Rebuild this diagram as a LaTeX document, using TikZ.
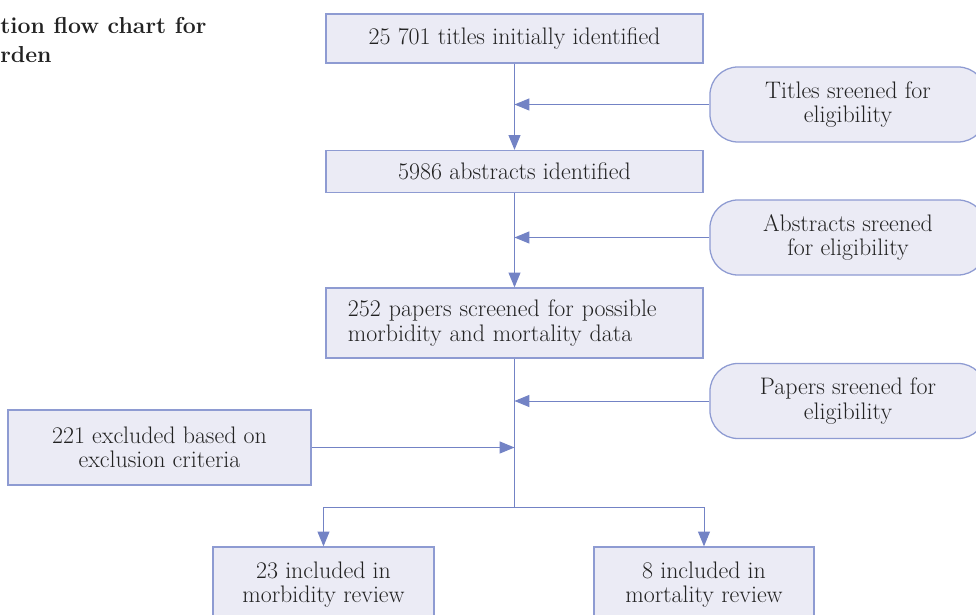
\documentclass[tikz,border=0pt]{standalone}
\usetikzlibrary{arrows.meta,positioning}

\definecolor{flowline}{HTML}{7383C5}
\definecolor{flowfill}{HTML}{EBEBF5}
\definecolor{flowedge}{HTML}{8E9BD2}
\definecolor{flowtext}{HTML}{222222}

\tikzset{
    stage/.style={rectangle, draw=flowedge, fill=flowfill, line width=0.9pt,
        text=flowtext, align=center, inner sep=0pt},
    screen/.style={stage, rounded corners=0.7cm, minimum width=6.9cm, minimum height=1.875cm},
    link/.style={draw=flowline, line width=0.7pt},
    flow/.style={link, -{Triangle[length=10.5pt,width=8.5pt]}}
}

\begin{document}
\begin{tikzpicture}[x=0.025cm, y=-0.025cm, font=\fontsize{17}{17.5}\selectfont]
            \useasboundingbox (0,0) rectangle (976,615);
            \clip (0,0) rectangle (976,615);

            \node [anchor=north west, inner sep=0pt, align=left, text=flowtext,
                font=\fontsize{16.4}{21}\selectfont\bfseries] (caption) at (0,17)
                {tion flow chart for\\rden};

            \node [stage, minimum width=9.425cm, minimum height=1.225cm] (titles) at (514.5,38.5)
                {25 701 titles initially identified};
            \node [stage, minimum width=9.425cm, minimum height=1.05cm] (abstracts) at (514.5,171.5)
                {5986 abstracts identified};
            \node [stage, minimum height=1.75cm, inner xsep=0.55cm, text width=8.325cm, align=left]
                (papers) at (514.5,323)
                {252 papers screened for possible\\morbidity and mortality data};
            \node [stage, minimum width=7.575cm, minimum height=1.875cm] (excl) at (159.5,447.5)
                {221 excluded based on\\exclusion criteria};
            \node [stage, minimum width=5.525cm, minimum height=1.875cm] (morb) at (323.5,584.5)
                {23 included in\\morbidity review};
            \node [stage, minimum width=5.5cm, minimum height=1.875cm] (mort) at (704,584.5)
                {8 included in\\mortality review};

            \node [screen] (tsel) at (848,104.5) {Titles sreened for\\eligibility};
            \node [screen] (asel) at (848,237.5) {Abstracts sreened\\for eligibility};
            \node [screen] (psel) at (848,401) {Papers sreened for\\eligibility};

            \coordinate (split) at (514.5,507);

            \draw [flow] (titles) -- (abstracts);
            \draw [flow] (tsel) -- (tsel -| titles);
            \draw [flow] (abstracts) -- (papers);
            \draw [flow] (asel) -- (asel -| abstracts);
            \draw [link] (papers) -- (split);
            \draw [flow] (psel) -- (psel -| papers);
            \draw [flow] (excl) -- (excl -| papers);
            \draw [flow] (split) -| (morb);
            \draw [flow] (split) -| (mort);
        \end{tikzpicture}
\end{document}
